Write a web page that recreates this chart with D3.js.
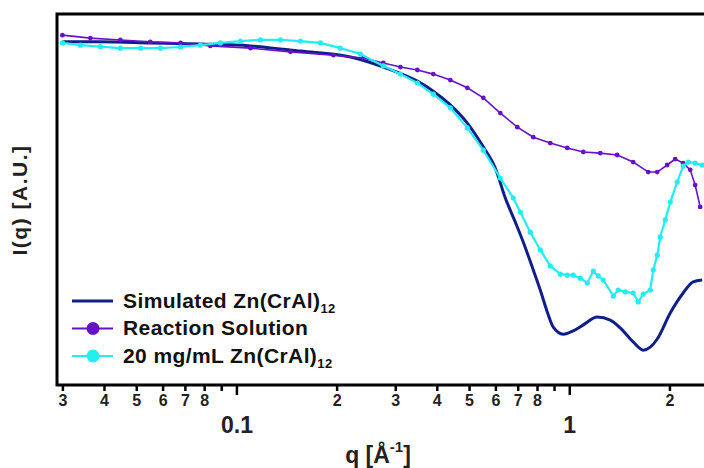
<!DOCTYPE html>
<html>
<head>
<meta charset="utf-8">
<script src="https://cdn.jsdelivr.net/npm/d3@7"></script>
<style>
  body { margin: 0; background: #fff; }
  text { font-family: "Liberation Sans", Arial, sans-serif; font-weight: bold; }
</style>
</head>
<body>
<svg width="704" height="468"></svg>
<script>
// q [1/A] and intensity [A.U.]
let simQ = [0.0300, 0.0390, 0.0551, 0.0779, 0.1102, 0.1556, 0.2200, 0.2763, 0.3496, 0.3904,
  0.4391, 0.4940, 0.5517, 0.5994, 0.6425, 0.6885, 0.7277, 0.7796, 0.8183, 0.8588,
  0.8954, 0.9594, 1.028, 1.102, 1.214, 1.328, 1.423, 1.556, 1.668, 1.751,
  1.838, 2.011, 2.199, 2.357, 2.508];
let simI = [92.5, 92.5, 92.2, 91.9, 91.4, 90.0, 88.4, 85.7, 81.9, 79.2,
  75.5, 70.6, 64.2, 58.5, 50.4, 43.9, 38.5, 31.0, 25.6, 19.7,
  15.6, 13.7, 14.6, 16.2, 18.3, 17.5, 15.4, 11.6, 9.4, 10.2,
  12.4, 19.4, 24.8, 27.8, 28.3];

let rxnQ = [0.0300, 0.0364, 0.0448, 0.0551, 0.0679, 0.0835, 0.1102, 0.1453, 0.1956, 0.2406,
  0.2763, 0.3109, 0.3496, 0.3904, 0.4391, 0.4940, 0.5517, 0.6206, 0.6982, 0.7796,
  0.8768, 0.9863, 1.102, 1.239, 1.393, 1.556, 1.727, 1.838, 1.969, 2.081,
  2.199, 2.309, 2.389, 2.474];
let rxnI = [94.3, 93.5, 93.0, 92.5, 92.2, 91.4, 90.8, 89.8, 88.9, 88.1,
  86.8, 85.7, 84.9, 83.8, 82.2, 80.1, 77.4, 73.3, 69.5, 66.8,
  65.2, 63.9, 62.8, 62.5, 62.0, 60.1, 57.4, 57.4, 59.3, 60.9,
  59.8, 58.0, 53.9, 48.0];

let solQ = [0.0300, 0.0340, 0.0390, 0.0448, 0.0515, 0.0591, 0.0679, 0.0779, 0.0895, 0.1028,
  0.1180, 0.1356, 0.1556, 0.1788, 0.2052, 0.2357, 0.2763, 0.3109, 0.3496, 0.3904,
  0.4391, 0.4940, 0.5517, 0.6206, 0.6789, 0.7127, 0.7637, 0.8183, 0.8768, 0.9397,
  0.9863, 1.028, 1.079, 1.133, 1.181, 1.222, 1.265, 1.356, 1.403, 1.473,
  1.556, 1.611, 1.668, 1.751, 1.788, 1.838, 1.876, 1.943, 2.011, 2.110,
  2.199, 2.277, 2.389, 2.508];
let solI = [92.2, 91.6, 91.2, 90.8, 90.8, 90.8, 91.1, 91.6, 92.2, 92.7,
  93.0, 93.0, 92.7, 92.2, 90.8, 89.2, 86.0, 83.8, 81.4, 78.4,
  74.7, 69.3, 63.3, 55.8, 50.4, 46.6, 41.2, 36.4, 32.1, 29.9,
  29.6, 29.6, 28.8, 27.5, 30.7, 29.4, 28.3, 24.0, 25.6, 25.1,
  24.8, 22.4, 24.5, 25.6, 31.0, 35.0, 39.9, 44.5, 49.3, 54.7,
  59.0, 60.1, 59.8, 59.3];

let tickVals = [0.03, 0.04, 0.05, 0.06, 0.07, 0.08, 0.09, 0.2, 0.3, 0.4, 0.5, 0.6, 0.7, 0.8, 0.9, 2];
let tickLabels = ["3", "4", "5", "6", "7", "8", "", "2", "3", "4", "5", "6", "7", "8", "", "2"];
let majorVals = [0.1, 1];
let majorLabels = ["0.1", "1"];

let seriesNames = ["Simulated Zn(CrAl)", "Reaction Solution", "20 mg/mL Zn(CrAl)"];
let seriesSubs = ["12", "", "12"];
let colors = ["#0f1f8a", "#6612c9", "#22eef2"];

let svg = d3.select("svg");
let plotL = 57, plotR = 704, plotT = 14, plotB = 385;

let x = d3.scaleLog().domain([0.0289, 2.54]).range([plotL, plotR]);
let y = d3.scaleLinear().domain([0, 100]).range([plotB, plotT]);

svg.append("clipPath").attr("id", "clip")
  .append("rect").attr("x", plotL).attr("y", plotT).attr("width", plotR - plotL).attr("height", plotB - plotT);

let line = d3.line().x(d => x(d[0])).y(d => y(d[1])).curve(d3.curveMonotoneX);

let sim = d3.zip(simQ, simI);
let rxn = d3.zip(rxnQ, rxnI);
let sol = d3.zip(solQ, solI);

let plot = svg.append("g").attr("clip-path", "url(#clip)");

plot.append("path").datum(sim)
  .attr("d", line).attr("fill", "none")
  .attr("stroke", colors[0]).attr("stroke-width", 3);

plot.append("path").datum(rxn)
  .attr("d", d3.line().x(d => x(d[0])).y(d => y(d[1])))
  .attr("fill", "none").attr("stroke", colors[1]).attr("stroke-width", 1.6);
plot.selectAll(".rxn").data(rxn).enter().append("circle")
  .attr("class", "rxn")
  .attr("cx", d => x(d[0])).attr("cy", d => y(d[1]))
  .attr("r", 2.4).attr("fill", colors[1]);

plot.append("path").datum(sol)
  .attr("d", d3.line().x(d => x(d[0])).y(d => y(d[1])))
  .attr("fill", "none").attr("stroke", colors[2]).attr("stroke-width", 2.2);
plot.selectAll(".sol").data(sol).enter().append("circle")
  .attr("class", "sol")
  .attr("cx", d => x(d[0])).attr("cy", d => y(d[1]))
  .attr("r", 2.6).attr("fill", colors[2]);

// frame (left, top, bottom)
svg.append("path")
  .attr("d", "M" + plotR + "," + plotT + "H" + plotL + "V" + plotB + "H" + plotR)
  .attr("fill", "none").attr("stroke", "#000").attr("stroke-width", 3);

// minor ticks
let minorAxis = svg.append("g")
  .attr("transform", "translate(0," + plotB + ")")
  .call(d3.axisBottom(x).tickValues(tickVals)
    .tickFormat((d, i) => tickLabels[i]).tickSize(6).tickPadding(4));
minorAxis.select(".domain").remove();
minorAxis.selectAll("line").attr("stroke", "#000").attr("stroke-width", 2.5);
minorAxis.selectAll("text").attr("font-size", 16).attr("fill", "#222")
  .attr("font-family", "Liberation Sans, Arial, sans-serif");

// major ticks
let majorAxis = svg.append("g")
  .attr("transform", "translate(0," + plotB + ")")
  .call(d3.axisBottom(x).tickValues(majorVals)
    .tickFormat((d, i) => majorLabels[i]).tickSize(10).tickPadding(22));
majorAxis.select(".domain").remove();
majorAxis.selectAll("line").attr("stroke", "#000").attr("stroke-width", 2.5);
majorAxis.selectAll("text").attr("font-size", 23).attr("fill", "#222")
  .attr("font-family", "Liberation Sans, Arial, sans-serif");

// axis titles
let xt = svg.append("text").attr("x", 378).attr("y", 463)
  .attr("text-anchor", "middle").attr("font-size", 23).attr("fill", "#222");
xt.append("tspan").text("q [Å");
xt.append("tspan").attr("font-size", 15).attr("dy", -11).text("-1");
xt.append("tspan").attr("dy", 11).text("]");

svg.append("text")
  .attr("transform", "translate(27,200) rotate(-90)")
  .attr("text-anchor", "middle").attr("font-size", 21).attr("letter-spacing", 1.5)
  .attr("fill", "#222")
  .text("I(q) [A.U.]");

// legend
let legend = svg.append("g").selectAll("g").data(seriesNames).enter().append("g")
  .attr("transform", (d, i) => "translate(0," + (301 + i * 27.5) + ")");
legend.append("line")
  .attr("x1", 72).attr("x2", 113)
  .attr("stroke", (d, i) => colors[i])
  .attr("stroke-width", (d, i) => (i == 0 ? 3 : 2));
legend.filter((d, i) => i > 0).append("circle")
  .attr("cx", 93).attr("r", 6.5)
  .attr("fill", (d, i) => colors[i + 1]);
let lt = legend.append("text").attr("x", 123).attr("y", 6.5)
  .attr("font-size", 21).attr("letter-spacing", 0.4).attr("fill", "#111");
lt.append("tspan").text(d => d);
lt.append("tspan").attr("font-size", 13).attr("dy", 5).text((d, i) => seriesSubs[i]);
</script>
</body>
</html>
